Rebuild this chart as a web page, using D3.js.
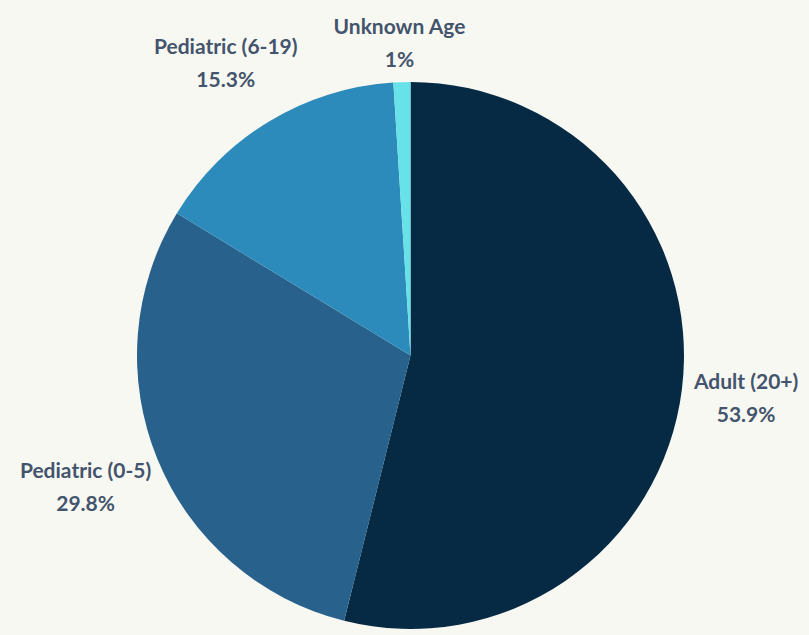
<!DOCTYPE html>
<html><head><meta charset="utf-8">
<script src="https://cdn.jsdelivr.net/npm/d3@7"></script>
<style>
html,body{margin:0;padding:0;background:#f8f8f2;}
svg{display:block;}
text{font-family:Lato,"Open Sans",sans-serif;font-weight:700;fill:#43546c;}
</style></head>
<body>
<svg id="chart" width="809" height="635"></svg>
<script>
const categories = ["Adult (20+)", "Pediatric (0-5)", "Pediatric (6-19)", "Unknown Age"];
const values = [53.9, 29.8, 15.3, 1];
const valueLabels = ["53.9%", "29.8%", "15.3%", "1%"];
const colors = ["#062a44", "#28618c", "#2c8bba", "#66e2e8"];

const W = 809, H = 635;
const cx = 410.5, cy = 355.5, r = 273.5;
const svg = d3.select("#chart");
const g = svg.append("g").attr("transform", `translate(${cx},${cy})`);

const pie = d3.pie().sort(null).value(d => d.v);
const data = pie(categories.map((c, i) => ({c, v: values[i], l: valueLabels[i], col: colors[i]})));
const arc = d3.arc().innerRadius(0).outerRadius(r);

g.selectAll("path").data(data).join("path")
  .attr("d", arc)
  .attr("fill", d => d.data.col);

const fs = 21, lh = 33;
const labelR = r + 12, ky = 1.1, topMargin = 13;
data.forEach(d => {
  const a = (d.startAngle + d.endAngle) / 2;
  const s = Math.sin(a), c = Math.cos(a);
  const px = s * labelR, py = -c * labelR * ky;
  const t = g.append("text").attr("font-size", fs).attr("text-anchor", "middle");
  t.append("tspan").attr("x", 0).attr("dy", 0).text(d.data.c);
  t.append("tspan").attr("x", 0).attr("dy", lh).text(d.data.l);
  const bb = t.node().getBBox();
  const w = bb.width, h = bb.height;
  const ccx = px + s * w / 2;
  let ccy = py - c * h / 2;
  ccy = Math.max(ccy, topMargin - cy + h / 2);
  t.attr("transform", `translate(${ccx},${ccy - bb.y - h / 2})`);
});
</script>
</body></html>
